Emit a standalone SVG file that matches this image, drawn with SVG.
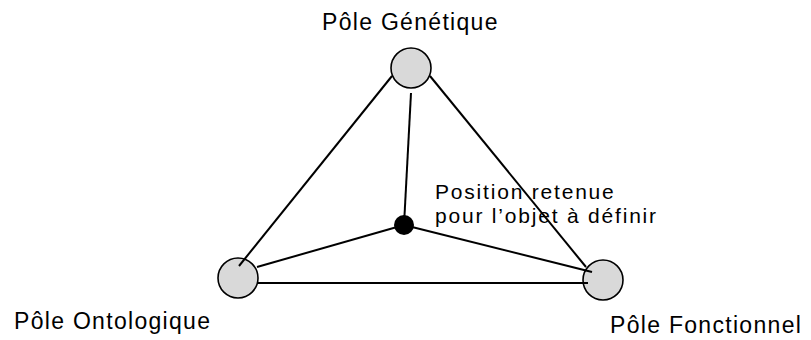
<svg xmlns="http://www.w3.org/2000/svg" width="811" height="340" viewBox="0 0 811 340">
<style>
.pole{fill:#d9d9d9;stroke:#000;stroke-width:1.6}
.lbl{font-family:"Liberation Sans",Arial,sans-serif;font-size:23px;letter-spacing:1.3px;fill:#000}
.lbl2{font-family:"Liberation Sans",Arial,sans-serif;font-size:21px;letter-spacing:1.8px;fill:#000}
.conn line{stroke:#000;stroke-width:2;stroke-linecap:butt}
</style>
<rect width="811" height="340" fill="#fff"/>
<g id="pole-genetique">
<circle class="pole" cx="411" cy="68" r="20"/>
<text class="lbl" x="322" y="30">Pôle Génétique</text>
</g>
<g id="pole-ontologique">
<circle class="pole" cx="238" cy="278" r="20"/>
<text class="lbl" x="14" y="329">Pôle Ontologique</text>
</g>
<g id="pole-fonctionnel">
<circle class="pole" cx="603" cy="280" r="20"/>
<text class="lbl" x="610" y="333">Pôle Fonctionnel</text>
</g>
<g id="position">
<circle cx="404" cy="225" r="10" fill="#000"/>
<text class="lbl2" x="435" y="199">Position retenue</text>
<text class="lbl2" x="435" y="223">pour l’objet à définir</text>
</g>
<g id="connectors" class="conn">
<line x1="392" y1="76" x2="239" y2="266"/>
<line x1="430" y1="76" x2="586" y2="267"/>
<line x1="411" y1="93" x2="404" y2="225"/>
<line x1="257" y1="267" x2="404" y2="225"/>
<line x1="404" y1="225" x2="592" y2="272"/>
<line x1="257" y1="283" x2="588" y2="283"/>
</g>
</svg>
